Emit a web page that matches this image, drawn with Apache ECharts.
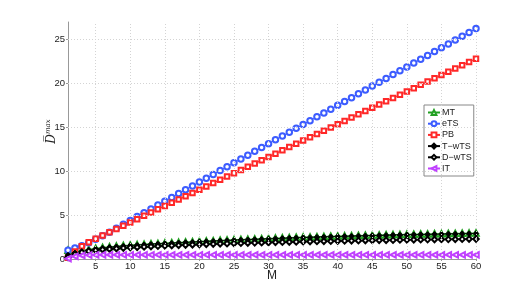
<!DOCTYPE html>
<html><head><meta charset="utf-8">
<script src="https://cdn.jsdelivr.net/npm/echarts@6/dist/echarts.min.js"></script>
<style>html,body{margin:0;padding:0;background:#fff}#c{width:526px;height:291px}</style>
</head><body><div id="c"></div>
<script>
const M = [1,2,3,4,5,6,7,8,9,10,11,12,13,14,15,16,17,18,19,20,21,22,23,24,25,26,27,28,29,30,31,32,33,34,35,36,37,38,39,40,41,42,43,44,45,46,47,48,49,50,51,52,53,54,55,56,57,58,59,60];
const xTicks = [5,10,15,20,25,30,35,40,45,50,55,60];
const yTicks = [0,5,10,15,20,25];
const MT = [1.0,0.85,1.0,1.1,1.22,1.32,1.4,1.47,1.53,1.59,1.64,1.69,1.74,1.78,1.82,1.86,1.9,1.94,1.98,2.02,2.06,2.09,2.13,2.16,2.2,2.23,2.26,2.29,2.32,2.35,2.38,2.41,2.44,2.47,2.5,2.52,2.55,2.57,2.6,2.62,2.64,2.66,2.68,2.7,2.72,2.74,2.76,2.78,2.8,2.82,2.83,2.85,2.86,2.88,2.89,2.91,2.92,2.94,2.95,2.96];
const eTS = [1.0,1.25,1.5,1.85,2.25,2.65,3.05,3.5,3.95,4.4,4.84,5.27,5.71,6.15,6.59,7.02,7.46,7.90,8.33,8.77,9.21,9.64,10.08,10.52,10.96,11.39,11.83,12.27,12.70,13.14,13.58,14.01,14.45,14.89,15.33,15.76,16.20,16.64,17.07,17.51,17.95,18.38,18.82,19.26,19.70,20.13,20.57,21.01,21.44,21.88,22.32,22.75,23.19,23.63,24.07,24.50,24.94,25.38,25.81,26.25];
const PB = [0.15,0.85,1.45,1.9,2.3,2.68,3.05,3.42,3.80,4.17,4.54,4.92,5.29,5.66,6.04,6.41,6.78,7.15,7.53,7.90,8.27,8.65,9.02,9.39,9.77,10.14,10.51,10.88,11.26,11.63,12.00,12.38,12.75,13.12,13.50,13.87,14.24,14.61,14.99,15.36,15.73,16.11,16.48,16.85,17.23,17.60,17.97,18.34,18.72,19.09,19.46,19.84,20.21,20.58,20.96,21.33,21.70,22.07,22.45,22.82];
const TwTS = [0.45,0.7,0.85,1.0,1.15,1.25,1.33,1.4,1.47,1.53,1.58,1.63,1.68,1.72,1.76,1.8,1.84,1.88,1.92,1.96,2.0,2.03,2.07,2.1,2.14,2.17,2.2,2.23,2.26,2.29,2.32,2.35,2.38,2.41,2.44,2.46,2.49,2.51,2.54,2.56,2.58,2.6,2.62,2.64,2.66,2.68,2.7,2.72,2.74,2.76,2.77,2.79,2.8,2.82,2.83,2.85,2.86,2.88,2.89,2.9];
const DwTS = [0.2,0.55,0.75,0.9,1.0,1.08,1.14,1.2,1.25,1.3,1.34,1.38,1.42,1.46,1.5,1.53,1.56,1.59,1.62,1.65,1.68,1.7,1.73,1.75,1.78,1.8,1.82,1.84,1.86,1.88,1.9,1.92,1.94,1.95,1.97,1.99,2.0,2.02,2.03,2.05,2.06,2.08,2.09,2.1,2.12,2.13,2.14,2.15,2.17,2.18,2.19,2.2,2.21,2.22,2.23,2.24,2.25,2.26,2.27,2.28];
const IT = [0.05,0.3,0.4,0.45,0.46,0.47,0.47,0.47,0.47,0.47,0.47,0.47,0.47,0.47,0.47,0.47,0.47,0.47,0.47,0.47,0.47,0.47,0.47,0.47,0.47,0.47,0.47,0.47,0.47,0.47,0.47,0.47,0.47,0.47,0.47,0.47,0.47,0.47,0.47,0.47,0.47,0.47,0.47,0.47,0.47,0.47,0.47,0.47,0.47,0.47,0.47,0.47,0.47,0.47,0.47,0.47,0.47,0.47,0.47,0.47];

const FONT = 'Liberation Sans';
function pairs(v){ return M.map((m,i)=>[m,v[i]]); }
function mk(name, data, color, symbol, size, extra){
  return Object.assign({
    name, type:'line', data: pairs(data), symbol, symbolSize:size,
    lineStyle:{color, width:1}, itemStyle:{color, borderColor:color, borderWidth:1},
    showSymbol:true, animation:false, z:2
  }, extra||{});
}
const gridLines = xTicks.map(v=>({xAxis:v})).concat(yTicks.filter(v=>v>0).map(v=>({yAxis:v})));
const chart = echarts.init(document.getElementById('c'), null, {renderer:'canvas'});
chart.setOption({
  animation:false,
  backgroundColor:'#fff',
  grid:{left:68, right:50, top:22, bottom:32},
  xAxis:{type:'value', min:1, max:60,
    name:'M', nameLocation:'middle', nameGap:11, nameMoveOverlap:false,
    nameTextStyle:{fontFamily:FONT, fontSize:12, color:'#222'},
    axisLine:{lineStyle:{color:'#999'}},
    axisTick:{customValues:xTicks, inside:false, length:2, lineStyle:{color:'#999'}},
    axisLabel:{customValues:xTicks, margin:2, fontFamily:FONT, fontSize:9.5, color:'#222'},
    splitLine:{show:false}
  },
  yAxis:{type:'value', min:0, max:27,
    name:'{d|D\u0305}{s|max}', nameLocation:'middle', nameGap:9, nameRotate:90, nameMoveOverlap:false,
    nameTextStyle:{fontFamily:FONT, color:'#222', padding:[0,0,0,18],
      rich:{d:{fontSize:12, fontStyle:'italic', fontFamily:'DejaVu Serif', color:'#222'},
            s:{fontSize:7, fontStyle:'italic', fontFamily:'DejaVu Serif', color:'#222', padding:[0,0,7,0]}}},
    axisLine:{show:true, lineStyle:{color:'#999'}},
    axisTick:{customValues:yTicks, length:2, lineStyle:{color:'#999'}},
    axisLabel:{customValues:yTicks, margin:3, fontFamily:FONT, fontSize:9.5, color:'#222'},
    splitLine:{show:false}
  },
  legend:{orient:'vertical', left:424, top:105, padding:[3,2,3,3], itemGap:2.2,
    itemWidth:12, itemHeight:6, borderColor:'#888', borderWidth:1, backgroundColor:'#fff',
    textStyle:{fontFamily:FONT, fontSize:9, color:'#222', padding:[0,0,0,-3]},
    data:['MT','eTS','PB','T\u2212wTS','D\u2212wTS','IT']},
  series:[
    {name:'grid', type:'line', data:[], z:0, silent:true,
      markLine:{silent:true, symbol:['none','none'], label:{show:false}, animation:false,
        lineStyle:{color:'#d4d4d4', type:[1,2], width:1}, emphasis:{disabled:true}, data:gridLines}},
    mk('MT', MT, '#22a022', 'emptyTriangle', 5.5),
    mk('eTS', eTS, '#3c5cff', 'emptyCircle', 5.5),
    mk('PB', PB, '#ff2828', 'emptyRect', 4.5),
    mk('T\u2212wTS', TwTS, '#000000', 'diamond', 5.5),
    mk('D\u2212wTS', DwTS, '#000000', 'emptyDiamond', 5.5),
    mk('IT', IT, '#c040ff', 'emptyTriangle', 5.5, {symbolRotate:90})
  ]
});
</script></body></html>
